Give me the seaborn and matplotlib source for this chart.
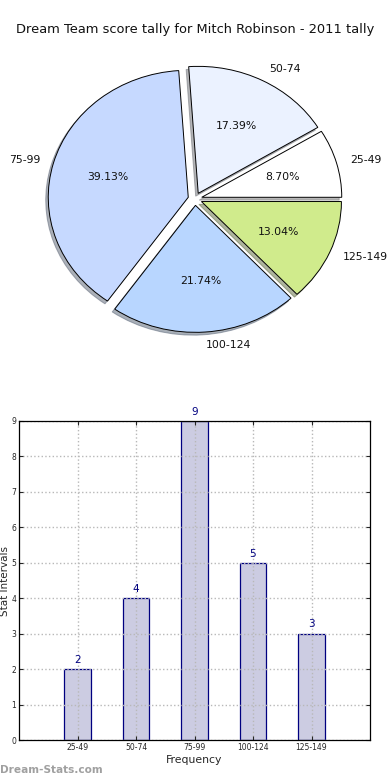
import matplotlib
matplotlib.use("Agg")
import matplotlib.pyplot as plt
import seaborn as sns
import pandas as pd

# données
intervals = ["25-49", "50-74", "75-99", "100-124", "125-149"]
counts = [2, 4, 9, 5, 3]
pie_colors = ["#FFFFFF", "#EBF2FF", "#C6D9FF", "#B8D6FF", "#D0EB8C"]
explode = [0.05, 0.05, 0.05, 0.05, 0.05]

sns.set_style("white")
plt.rcParams['font.family'] = ['DejaVu Sans']

fig = plt.figure(figsize=(3.9, 7.8), dpi=100)
fig.text(0.5, 1 - 30 / 780, "Dream Team score tally for Mitch Robinson - 2011 tally",
         ha="center", va="center", fontsize=9.4, color="#111111")

# camembert (légèrement elliptique comme l'original)
ax1 = fig.add_axes([0, 1 - 355 / 780, 1, 310 / 780])
wedges, texts, autotexts = ax1.pie(
    counts, labels=intervals, colors=pie_colors, explode=explode,
    autopct="%1.2f%%", shadow={"ox": -0.013, "oy": -0.016, "shade": 0.55},
    startangle=0,
    wedgeprops={"edgecolor": "black", "linewidth": 0.7},
    textprops={"fontsize": 7.8, "color": "#111111"})
ax1.set_aspect("auto")
rx, ry = 140, 127
ax1.set_xlim(-195 / rx, 195 / rx)
ax1.set_ylim(-156 / ry, 154 / ry)

# barres
df = pd.DataFrame({"interval": intervals, "count": counts})
ax2 = fig.add_axes([19 / 390, 1 - 740 / 780, 351 / 390, 319 / 780])
sns.barplot(data=df, x="interval", y="count", ax=ax2, width=0.45,
            color="#CCCCE2", edgecolor="#000080", linewidth=0.9, saturation=1)
ax2.set_xlim(-1, 5)
ax2.set_ylim(0, 9)
ax2.set_yticks(range(10))
ax2.grid(True, linestyle=":", color="#B8B8B8", linewidth=1)
ax2.set_axisbelow(False)
for i, c in enumerate(counts):
    ax2.text(i, c + 0.12, str(c), ha="center", va="bottom", fontsize=7.5, color="#000080")
ax2.tick_params(axis="both", labelsize=5.5, length=3, direction="in", pad=2,
                top=True, right=True, bottom=True, left=True)
ax2.set_xlabel("Frequency", fontsize=7.8, labelpad=2)
ax2.set_ylabel("Stat Intervals", fontsize=7.5, labelpad=1)
for s in ax2.spines.values():
    s.set_color("black")
    s.set_linewidth(0.9)
    s.set_zorder(4)

fig.text(0.0, 1 - 770 / 780, "Dream-Stats.com", fontsize=7.6, color="#A0A0A0",
         fontweight="bold", va="center", ha="left")

fig.savefig("out.png", dpi=100)
